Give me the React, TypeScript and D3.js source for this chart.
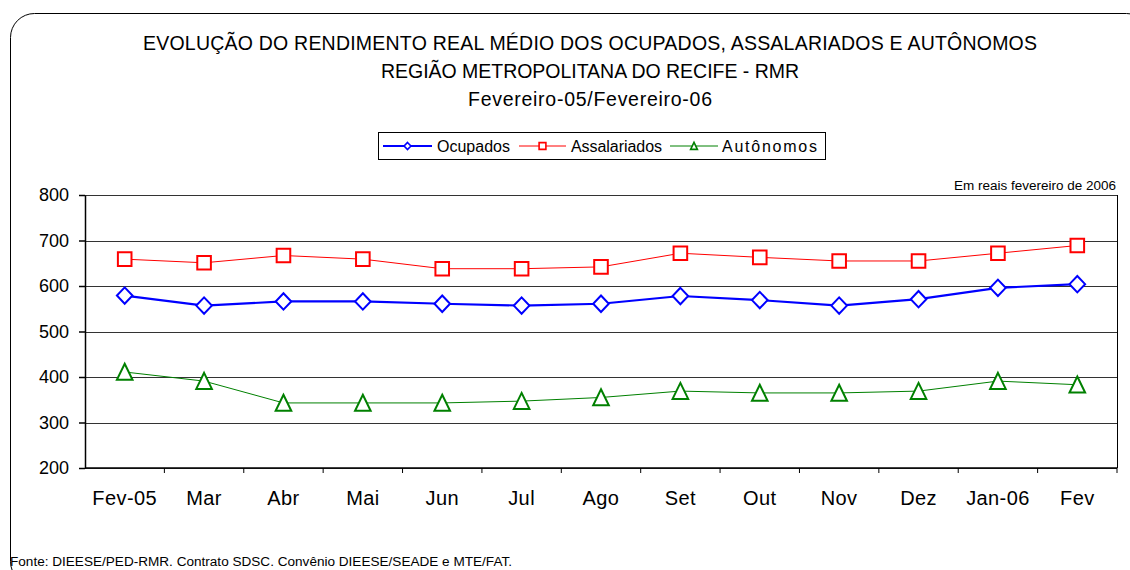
import React, { useRef, useEffect } from 'react';
import * as d3 from 'd3';

const categories = ['Fev-05', 'Mar', 'Abr', 'Mai', 'Jun', 'Jul', 'Ago', 'Set', 'Out', 'Nov', 'Dez', 'Jan-06', 'Fev'];
const ocupados = [579, 557, 566, 566, 561, 557, 561, 578, 569, 557, 571, 596, 604];
const assalariados = [659, 651, 667, 659, 638, 638, 642, 672, 663, 655, 655, 672, 689];
const autonomos = [411, 391, 343, 343, 343, 347, 355, 369, 365, 365, 369, 391, 383];
const yTicks = [200, 300, 400, 500, 600, 700, 800];

const titleLines = [
  'EVOLUÇÃO DO RENDIMENTO REAL MÉDIO DOS OCUPADOS, ASSALARIADOS E AUTÔNOMOS',
  'REGIÃO METROPOLITANA DO RECIFE - RMR',
  'Fevereiro-05/Fevereiro-06',
];
// widths of the title lines as they appear in the picture
const titleWidths = [894, 418, 244];

const series = [
  { name: 'Ocupados', values: ocupados, color: '#0000ff', width: 2.2, marker: 'diamond' },
  { name: 'Assalariados', values: assalariados, color: '#ff0000', width: 1, marker: 'square' },
  { name: 'Autônomos', values: autonomos, color: '#008000', width: 1, marker: 'triangle' },
];

const font = '"Liberation Sans", Arial, sans-serif';

const App = () => {
  const svgRef = useRef<SVGSVGElement>(null);

  useEffect(() => {
    const width = 1130;
    const height = 570;
    const svg = d3.select(svgRef.current);
    svg.selectAll('*').remove();
    svg.attr('width', width).attr('height', height).style('display', 'block').style('background', '#fff');

    // outer frame
    svg.append('rect')
      .attr('x', 10.5).attr('y', 13.5).attr('width', 1140).attr('height', 572)
      .attr('rx', 24).attr('fill', 'none').attr('stroke', '#000').attr('stroke-width', 1);

    // titles
    svg.selectAll('.title')
      .data(titleLines)
      .join('text')
      .attr('class', 'title')
      .attr('x', 590)
      .attr('y', (d, i) => 49.5 + i * 28)
      .attr('text-anchor', 'middle')
      .attr('textLength', (d, i) => titleWidths[i])
      .attr('lengthAdjust', 'spacing')
      .style('font-family', font)
      .style('font-size', '19.5px')
      .text(d => d);

    const m = { left: 85, right: 1117, top: 195, bottom: 468 };

    const x = d3.scaleBand().domain(categories).range([m.left, m.right]);
    const y = d3.scaleLinear().domain([200, 800]).range([m.bottom, m.top]);

    // gridlines
    svg.append('g')
      .selectAll('line')
      .data(yTicks)
      .join('line')
      .attr('x1', m.left).attr('x2', m.right)
      .attr('y1', d => Math.round(y(d)) + 0.5).attr('y2', d => Math.round(y(d)) + 0.5)
      .attr('stroke', '#333').attr('stroke-width', 1);

    // right border
    svg.append('line')
      .attr('x1', m.right + 0.5).attr('x2', m.right + 0.5).attr('y1', m.top).attr('y2', m.bottom)
      .attr('stroke', '#000');

    // y axis
    const yAxis = svg.append('g')
      .attr('transform', `translate(${m.left},0)`)
      .call(d3.axisLeft(y).tickValues(yTicks).tickSize(6).tickPadding(10).tickSizeOuter(0));
    yAxis.selectAll('text').style('font-family', font).style('font-size', '18px').attr('fill', '#000');
    yAxis.selectAll('line,path').attr('stroke', '#000').attr('stroke-width', 1.5);

    // x axis: ticks at band boundaries
    const xAxis = svg.append('g').attr('transform', `translate(0,${m.bottom})`);
    xAxis.append('line')
      .attr('x1', m.left).attr('x2', m.right).attr('stroke', '#000').attr('stroke-width', 1.5);
    xAxis.selectAll('.tk')
      .data(categories.slice(1).concat(['end']))
      .join('line')
      .attr('class', 'tk')
      .attr('x1', d => (d === 'end' ? m.right : x(d)!))
      .attr('x2', d => (d === 'end' ? m.right : x(d)!))
      .attr('y1', 0).attr('y2', 5)
      .attr('stroke', '#000');
    xAxis.selectAll('.lbl')
      .data(categories)
      .join('text')
      .attr('class', 'lbl')
      .attr('x', d => x(d)! + x.bandwidth() / 2)
      .attr('y', 37)
      .attr('text-anchor', 'middle')
      .style('font-family', font)
      .style('font-size', '20px')
      .style('letter-spacing', '0.4px')
      .text(d => d);

    const cx = (i: number) => x(categories[i])! + x.bandwidth() / 2;

    const markerPath = (kind: string, s: number) => {
      if (kind === 'diamond') return `M0,${-s * 1.05}L${s},0L0,${s * 1.05}L${-s},0Z`;
      if (kind === 'square') return `M${-s},${-s}H${s}V${s}H${-s}Z`;
      return `M0,${-s * 1.05}L${s},${s}L${-s},${s}Z`;
    };
    const markerSize: Record<string, number> = { diamond: 7.8, square: 6.8, triangle: 7.8 };

    const line = d3.line<number>().x((d, i) => cx(i)).y(d => y(d));

    series.forEach(s => {
      const g = svg.append('g');
      g.append('path')
        .attr('d', line(s.values))
        .attr('fill', 'none')
        .attr('stroke', s.color)
        .attr('stroke-width', s.width);
      g.selectAll('path.mk')
        .data(s.values)
        .join('path')
        .attr('class', 'mk')
        .attr('transform', (d, i) => `translate(${cx(i)},${y(d)})`)
        .attr('d', markerPath(s.marker, markerSize[s.marker]))
        .attr('fill', '#fff')
        .attr('stroke', s.color)
        .attr('stroke-width', 2);
    });

    // legend
    const lg = svg.append('g');
    lg.append('rect')
      .attr('x', 378.5).attr('y', 132.5).attr('width', 447).attr('height', 27)
      .attr('fill', '#fff').attr('stroke', '#000');
    const items = [
      { x0: 383, x1: 432, tx: 437, w: 73 },
      { x0: 519, x1: 566, tx: 571, w: 91 },
      { x0: 670, x1: 718, tx: 722, w: 95 },
    ];
    series.forEach((s, i) => {
      const it = items[i];
      lg.append('line')
        .attr('x1', it.x0).attr('x2', it.x1).attr('y1', 146).attr('y2', 146)
        .attr('stroke', s.color).attr('stroke-width', s.width);
      lg.append('path')
        .attr('transform', `translate(${(it.x0 + it.x1) / 2},146)`)
        .attr('d', markerPath(s.marker, 3.4))
        .attr('fill', '#fff').attr('stroke', s.color).attr('stroke-width', 1.6);
      lg.append('text')
        .attr('x', it.tx).attr('y', 151.5)
        .attr('textLength', it.w).attr('lengthAdjust', 'spacing')
        .style('font-family', font).style('font-size', '16px')
        .text(s.name);
    });

    // unit note
    svg.append('text')
      .attr('x', 1116).attr('y', 190)
      .attr('text-anchor', 'end')
      .attr('textLength', 162).attr('lengthAdjust', 'spacingAndGlyphs')
      .style('font-family', font).style('font-size', '12px')
      .text('Em reais fevereiro de 2006');

    // source
    svg.append('text')
      .attr('x', 10).attr('y', 566)
      .attr('textLength', 502).attr('lengthAdjust', 'spacingAndGlyphs')
      .style('font-family', font).style('font-size', '12px')
      .text('Fonte: DIEESE/PED-RMR. Contrato SDSC. Convênio DIEESE/SEADE e MTE/FAT.');
  }, []);

  return (
    <div style={{ position: 'absolute', left: 0, top: 0 }}>
      <svg ref={svgRef}></svg>
    </div>
  );
};

export default App;
